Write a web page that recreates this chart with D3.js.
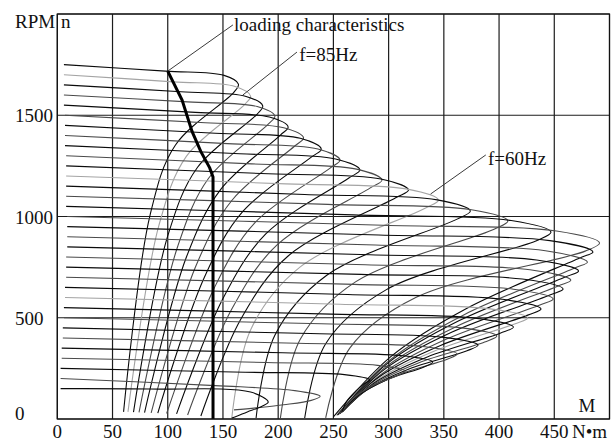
<!DOCTYPE html>
<html>
<head>
<meta charset="utf-8">
<title>Frequency control - mechanical characteristics</title>
<script src="https://cdn.jsdelivr.net/npm/d3@7"></script>
<style>
  body { margin: 0; background: #fff; }
  svg { display: block; }
  text { font-family: "Liberation Serif", "Times New Roman", serif; font-size: 19px; fill: #111; }
</style>
</head>
<body>
<script>
var width = 613, height = 441;

// axes
var xTicks = [0, 50, 100, 150, 200, 250, 300, 350, 400, 450, 500];
var yTicks = [0, 500, 1000, 1500, 2000];
var xLabels = [0, 50, 100, 150, 200, 250, 300, 350, 400, 450];
var yLabels = [0, 500, 1000, 1500];

// one curve per supply frequency (M in N*m, n in rpm)
var freqHz = [87.5, 85, 82.5, 80, 77.5, 75, 72.5, 70, 67.5, 65, 62.5, 60, 57.5, 55, 52.5, 50,
              47.5, 45, 42.5, 40, 37.5, 35, 32.5, 30, 27.5, 25, 22.5, 20, 17.5, 15, 12.5, 10, 7.5];
var startM = [6, 6, 6, 6, 6, 7, 7, 7, 7, 8, 8, 8, 8, 8, 8, 9, 9, 9, 9, 8, 8, 8, 7, 7, 6, 6, 5, 5, 4, 4, 3, 3, 3];
var startN = [1750, 1700, 1650, 1600, 1550, 1500, 1450, 1400, 1350, 1300, 1250, 1200, 1150, 1100, 1050, 1000,
              950, 900, 850, 800, 750, 700, 650, 600, 550, 500, 450, 400, 350, 300, 250, 200, 150];
var midM = [98, 105, 112, 118, 125, 134, 143, 154, 165, 176, 191, 207, 224, 245, 268, 295,
            291, 288, 283, 279, 275, 269, 263, 256, 248, 239, 229, 217, 204, 189, 170, 143, 84];
var midN = [1718, 1665, 1616, 1566, 1514, 1463, 1411, 1360, 1310, 1260, 1211, 1161, 1109, 1060, 1008, 957,
            909, 859, 811, 762, 714, 665, 615, 567, 518, 470, 422, 374, 327, 279, 231, 165, 148];
var preM = [151, 161, 171, 181, 192, 205, 220, 236, 252, 271, 293, 317, 344, 375, 411, 452,
            446, 442, 434, 428, 421, 413, 403, 392, 380, 366, 350, 333, 313, 290, 260, 215, 175];
var preN = [1697, 1642, 1593, 1543, 1491, 1438, 1386, 1333, 1284, 1234, 1185, 1135, 1082, 1033, 980, 928,
            881, 831, 785, 737, 691, 641, 591, 544, 497, 450, 403, 357, 312, 265, 219, 140, 133];
var tipM = [164, 175, 186, 197, 209, 223, 239, 256, 274, 294, 318, 345, 374, 408, 447, 491,
            485, 480, 472, 465, 458, 449, 438, 426, 413, 398, 381, 362, 340, 315, 283, 238, 191];
var tipN = [1654, 1595, 1546, 1496, 1442, 1388, 1333, 1279, 1230, 1180, 1131, 1081, 1027, 978, 923, 869,
            825, 775, 731, 686, 642, 593, 543, 499, 454, 410, 365, 321, 281, 237, 193, 112, 84];
var postM = [160, 170, 181, 191, 202, 215, 230, 247, 264, 283, 306, 333, 362, 396, 435, 478,
             473, 468, 460, 453, 446, 437, 426, 414, 401, 387, 371, 353, 332, 308, 278, 230, 185];
var postN = [1614, 1555, 1506, 1456, 1402, 1348, 1293, 1239, 1190, 1140, 1091, 1041, 987, 938, 883, 829,
             795, 745, 701, 656, 612, 563, 513, 469, 424, 380, 337, 295, 257, 215, 175, 92, 62];
var kneeM = [107, 117, 127, 137, 148, 158, 168, 179, 189, 199, 209, 220, 244, 270, 298, 325,
             371, 368, 364, 361, 357, 353, 347, 341, 335, 327, 319, 309, 298, 286, 270, 205, 172];
var kneeN = [1353, 1298, 1243, 1189, 1134, 1079, 1025, 970, 915, 860, 805, 751, 710, 677, 639, 601,
             547, 514, 486, 456, 428, 396, 363, 335, 306, 277, 248, 219, 193, 165, 136, 70, 35];
var lowM = [84, 92, 100, 109, 117, 125, 133, 142, 150, 158, 166, 175, 197, 220, 243, 265,
            302, 301, 299, 298, 296, 295, 292, 290, 287, 284, 281, 277, 273, 268, 262, 180, 163];
var lowN = [1007, 956, 904, 852, 801, 749, 698, 646, 595, 543, 491, 440, 414, 394, 372, 351,
            308, 291, 275, 260, 244, 227, 210, 194, 178, 163, 147, 132, 118, 102, 87, 55, 15];
var endM = [60, 64, 69, 74, 79, 85, 91, 99, 108, 118, 130, 158, 180, 202, 224, 243,
            250, 253, 254, 255, 256, 256, 257, 257, 257, 258, 258, 258, 258, 258, 258, 160, 158];
var endN = [35, 35, 34, 33, 32, 30, 29, 27, 25, 20, 15, 5, 5, 5, 5, 6,
            10, 18, 20, 24, 27, 29, 31, 32, 33, 34, 35, 36, 37, 38, 38, 45, 5];
var markedHz = [85, 60, 30];

// loading characteristic (bold)
var loadM = [100, 113, 122, 130, 138, 141, 141];
var loadN = [1718, 1575, 1420, 1320, 1240, 1195, 0];

// annotations: text anchor, leader start, leader end
var noteText = ["loading characteristics", "f=85Hz", "f=60Hz"];
var noteM = [160, 219, 390];
var noteN = [1916, 1768, 1254];
var leadM = [159, 217, 388];
var leadN = [1946, 1812, 1304];
var aimM = [100, 168, 338];
var aimN = [1718, 1600, 1111];

var x = d3.scaleLinear().domain([0, 500]).range([57.3, 609.5]);
var y = d3.scaleLinear().domain([0, 2000]).range([419, 14]);

var svg = d3.select("body").append("svg")
    .attr("width", width)
    .attr("height", height);

svg.append("clipPath").attr("id", "plot")
  .append("rect")
    .attr("x", x(0)).attr("y", y(2000))
    .attr("width", x(500) - x(0)).attr("height", y(0) - y(2000));

// grid
var grid = svg.append("g");
grid.selectAll(".gx")
    .data(xTicks)
    .enter().append("line")
    .attr("class", "gx")
    .attr("x1", function(d) { return x(d); })
    .attr("x2", function(d) { return x(d); })
    .attr("y1", y(0)).attr("y2", y(2000))
    .attr("stroke", "#1c1c1c").attr("stroke-width", 1.2);
grid.selectAll(".gy")
    .data(yTicks)
    .enter().append("line")
    .attr("class", "gy")
    .attr("x1", x(0)).attr("x2", x(500))
    .attr("y1", function(d) { return y(d); })
    .attr("y2", function(d) { return y(d); })
    .attr("stroke", "#1c1c1c").attr("stroke-width", 1.2);

// curves
var curves = freqHz.map(function(f, i) {
    return {
        f: f,
        pts: [[startM[i], startN[i]], [midM[i], midN[i]], [preM[i], preN[i]], [tipM[i], tipN[i]],
              [postM[i], postN[i]], [kneeM[i], kneeN[i]], [lowM[i], lowN[i]], [endM[i], endN[i]]]
    };
});

var line = d3.line()
    .x(function(d) { return x(d[0]); })
    .y(function(d) { return y(d[1]); })
    .curve(d3.curveCatmullRom.alpha(0.5));

svg.append("g")
    .attr("clip-path", "url(#plot)")
  .selectAll("path")
    .data(curves)
    .enter().append("path")
    .attr("d", function(d) { return line(d.pts); })
    .attr("fill", "none")
    .attr("stroke", function(d, i) {
        if (markedHz.indexOf(d.f) >= 0) return "#a4a4a4";
        return i % 2 ? "#4a4a4a" : "#0a0a0a";
    })
    .attr("stroke-width", 1.1);

// loading characteristic
svg.append("path")
    .datum(d3.zip(loadM, loadN))
    .attr("d", d3.line().x(function(d) { return x(d[0]); }).y(function(d) { return y(d[1]); }))
    .attr("fill", "none")
    .attr("stroke", "#000")
    .attr("stroke-width", 3);

// leaders
svg.append("g").selectAll("line")
    .data(noteText)
    .enter().append("line")
    .attr("x1", function(d, i) { return x(leadM[i]); })
    .attr("y1", function(d, i) { return y(leadN[i]); })
    .attr("x2", function(d, i) { return x(aimM[i]); })
    .attr("y2", function(d, i) { return y(aimN[i]); })
    .attr("stroke", "#3a3a3a").attr("stroke-width", 1);

svg.append("g").selectAll("text")
    .data(noteText)
    .enter().append("text")
    .attr("x", function(d, i) { return x(noteM[i]); })
    .attr("y", function(d, i) { return y(noteN[i]); })
    .text(function(d) { return d; });

// frame
svg.append("rect")
    .attr("x", x(0)).attr("y", y(2000))
    .attr("width", x(500) - x(0)).attr("height", y(0) - y(2000))
    .attr("fill", "none").attr("stroke", "#111").attr("stroke-width", 1.2);

// tick labels
svg.append("g").selectAll("text")
    .data(xLabels)
    .enter().append("text")
    .attr("x", function(d) { return x(d); })
    .attr("y", y(0) + 19)
    .attr("text-anchor", "middle")
    .text(function(d) { return d; });

svg.append("g").selectAll("text")
    .data(yLabels)
    .enter().append("text")
    .attr("x", 15)
    .attr("y", function(d) { return d === 0 ? y(d) + 1 : y(d) + 7; })
    .text(function(d) { return d; });

svg.append("text").attr("x", 15).attr("y", 28).text("RPM");
svg.append("text").attr("x", 61).attr("y", 28).text("n");
svg.append("text").attr("x", 587).attr("y", 412).attr("text-anchor", "middle").text("M");
svg.append("text").attr("x", 572).attr("y", y(0) + 19).text("N\u2022m");
</script>
</body>
</html>
